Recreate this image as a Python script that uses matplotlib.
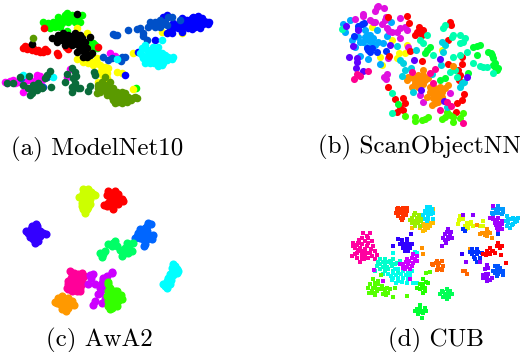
import matplotlib
matplotlib.use('Agg')
import matplotlib.pyplot as plt
import numpy as np

# point positions (t-SNE, arbitrary units)
# (a) ModelNet10
a_green = [(128,65),(145,70),(160,65),(175,60),(195,45),(205,50),(220,55),(245,45),(240,65),(225,65),(205,65),(185,70),(165,80),(150,85),(135,82),(200,92),(285,135),(275,145),(262,130),(408,265),(175,52),(190,60),(155,75),(170,70),(215,45),(200,40),(232,55),(180,80),(290,145),(280,130)]
a_red = [(70,145),(85,140),(100,145),(115,150),(130,155),(140,152),(170,158),(175,165),(205,147),(133,85),(295,140),(80,148),(95,150),(120,155),(75,138),(108,152),(135,148),(198,142)]
a_black = [(97,133),(230,42),(155,115),(175,105),(190,100),(205,105),(225,100),(240,105),(170,125),(185,120),(200,125),(215,120),(230,120),(245,115),(270,112),(255,125),(195,135),(215,135),(235,135),(240,150),(255,160),(270,165),(230,155),(260,145),(275,158),(185,110),(200,112),(215,108),(230,110),(245,125),(175,115),(225,128),(208,128),(245,140),(250,170),(262,170)]
a_yellow = [(230,85),(260,100),(232,178),(250,185),(265,190),(290,175),(280,195),(300,195),(310,210),(325,205),(300,215),(350,215),(365,220),(320,235),(295,245),(400,160),(485,97),(545,100),(398,268),(260,145),(305,225),(290,190),(315,200),(275,185),(245,178),(320,220)]
a_olive = [(98,115),(315,232),(305,245),(330,245),(295,265),(310,270),(325,265),(340,265),(350,275),(365,275),(320,285),(335,290),(350,295),(375,280),(385,290),(400,295),(345,310),(365,310),(380,305),(290,280),(295,255),(360,290),(405,290),(320,255),(310,258),(335,278),(375,295),(392,300),(355,305),(340,300),(322,275),(300,275),(370,288),(410,295)]
a_magenta = [(15,245),(30,242),(45,250),(65,240),(80,240),(110,235),(125,240),(120,228),(68,277),(210,207),(200,230),(330,160),(345,168),(55,245),(100,245),(22,250),(38,240),(72,245),(90,240),(110,225)]
a_dkgreen = [(20,250),(60,230),(88,228),(150,212),(140,225),(135,235),(115,250),(100,255),(85,265),(95,280),(110,270),(90,285),(125,265),(68,255),(152,262),(200,222),(215,205),(225,215),(195,245),(220,235),(225,250),(220,265),(235,265),(215,275),(240,265),(282,215),(285,225),(270,258),(265,272),(40,250),(105,262),(95,268),(120,258),(228,228),(215,260)]
a_pure_blue = [(520,70),(540,65),(560,60),(575,55),(590,50),(605,55),(620,65),(625,72),(600,75),(585,80),(565,85),(555,60),(510,90),(500,100),(545,95),(465,120),(490,50),(500,45),(375,225),(415,155),(605,65),(580,65),(595,65),(570,72),(555,75),(590,60),(612,62),(530,75),(520,85),(595,48),(580,50),(565,68),(550,82),(590,75),(610,72),(628,65),(575,88),(600,85),(545,55),(535,85),(515,100)]
a_blue = [(345,105),(385,90),(410,88),(420,85),(430,100),(450,65),(465,65),(480,60),(495,65),(445,80),(465,80),(480,80),(500,75),(540,60),(430,108),(440,120),(310,172),(325,180),(335,175),(365,170),(375,172),(362,182),(63,233),(140,232),(128,260),(505,50),(515,50),(475,70),(458,72),(490,72),(350,105),(338,103)]
a_cyan = [(425,145),(420,160),(430,175),(445,165),(460,140),(470,150),(485,160),(465,165),(455,180),(470,185),(485,195),(500,180),(515,178),(490,175),(350,178),(485,120),(160,232),(70,225),(435,135),(435,190),(450,150),(478,178),(460,155),(440,178),(475,140),(495,165),(505,172),(462,190),(480,185),(425,165),(440,150),(455,168),(470,172),(450,190),(475,198),(490,188),(520,172)]

# (b) ScanObjectNN
b_yellow = [(440,135),(418,158),(435,158),(360,172),(395,120),(335,80),(410,175),(545,150),(365,195)]
b_magenta = [(355,18),(372,25),(345,32),(308,42),(285,58),(420,55),(330,60),(345,65),(375,60),(365,72),(380,85),(395,95),(410,95),(420,85),(440,90),(435,80),(420,115),(385,175),(380,222),(378,238),(490,305),(445,140),(570,280),(480,285),(350,22),(308,48),(338,65),(378,52),(388,92),(372,232)]
b_sky = [(270,60),(250,72),(255,95),(275,120),(295,110),(315,90),(320,105),(350,90),(380,108),(310,125),(325,120),(340,115),(355,125),(370,130),(320,140),(300,168),(325,178),(360,192),(392,65),(285,140),(315,110),(330,105),(335,130),(300,125),(345,135)]
b_blue = [(305,72),(295,78),(282,108),(320,145),(335,145),(350,155),(330,155),(378,152),(295,88),(312,68),(325,150)]
b_red = [(440,47),(383,50),(448,70),(478,82),(470,95),(490,90),(465,105),(485,105),(570,65),(450,152),(565,120),(388,168),(486,184),(605,170),(565,193),(605,193),(595,210),(600,225),(598,240),(385,262),(613,283),(605,300),(590,308),(405,297),(430,295),(435,310),(420,320),(428,330),(410,335),(587,335),(475,95),(572,75)]
b_orange = [(445,230),(460,235),(475,225),(490,210),(505,235),(480,245),(455,260),(475,260),(495,240),(525,265),(540,260),(510,275),(535,280),(520,295),(515,315),(535,305),(545,290),(565,255),(555,265),(500,290),(578,197),(470,240),(490,225),(465,250),(485,235),(520,280),(530,295),(510,262),(525,310),(545,275),(440,240),(490,252)]
b_spring = [(640,140),(660,135),(685,155),(695,165),(650,165),(700,175),(705,190),(712,210),(698,195),(415,313),(540,240),(555,235),(510,140),(495,160),(625,220),(650,138),(692,158),(705,200),(715,205),(500,150)]
b_lime = [(465,350),(465,362),(485,360),(503,352),(545,358),(555,352),(578,367),(560,335),(580,350),(600,355),(608,338),(436,348),(495,358),(570,345)]
b_mint = [(555,75),(550,85),(580,105),(600,105),(615,115),(600,130),(575,110),(620,155),(640,188),(660,198),(680,200),(700,220),(480,120),(500,105),(520,165),(580,170),(600,165),(570,215),(585,210),(590,232),(395,278),(395,338),(245,88),(670,200),(490,130),(610,125)]
b_cyan = [(545,125),(555,135),(410,138),(468,150),(420,180),(430,190),(435,210),(425,228),(452,205),(458,275),(550,155),(542,195),(605,250),(612,245),(600,262),(560,320),(515,222)]
b_violet = [(258,78),(295,90),(278,137),(390,135),(268,172),(290,175),(292,185),(287,205),(310,212),(462,180),(540,178),(620,230),(482,270),(552,302)]
b_pink = [(290,222),(300,228),(282,238),(325,213),(455,215),(510,220),(525,208),(520,248),(540,330),(572,318),(608,370),(560,305)]

# (c) AwA2
c_yellow = [(250,40),(265,40),(245,60),(260,60),(280,55),(245,80),(262,80),(250,100),(262,100),(270,85),(250,50),(272,48),(238,62),(255,70),(270,68),(245,90),(265,92),(255,110),(285,58)]
c_red = [(325,45),(345,45),(330,65),(350,65),(365,70),(320,90),(340,90),(355,85),(335,75),(340,55),(322,58),(355,55),(370,75),(345,78),(325,82),(312,88),(338,98),(358,75)]
c_indigo = [(95,150),(110,150),(85,170),(105,170),(130,172),(100,190),(115,195),(120,180),(108,145),(92,160),(110,160),(78,165),(120,165),(90,182),(105,182),(138,175),(105,200)]
c_blue = [(445,140),(435,155),(420,160),(410,180),(430,175),(450,180),(455,190),(435,205),(440,165),(452,145),(425,168),(415,172),(405,185),(440,190),(458,178),(430,190),(420,185),(432,210),(440,150)]
c_spring = [(340,200),(325,205),(350,210),(300,230),(310,235),(315,225),(375,215),(390,205),(395,225),(370,235),(385,220),(400,200),(335,210),(345,195),(380,200),(375,225),(385,232),(365,240),(305,242),(360,222)]
c_cyan = [(515,275),(530,280),(510,295),(505,305),(490,325),(510,325),(500,335),(520,265),(525,270),(535,285),(518,288),(500,315),(512,312),(520,298),(495,330),(530,292)]
c_pink = [(215,295),(235,295),(245,290),(205,315),(225,315),(245,310),(205,340),(225,335),(240,335),(205,325),(210,285),(225,300),(212,305),(235,305),(252,300),(215,328),(230,325),(245,325),(215,345),(230,345),(200,335),(240,345),(222,290)]
c_orange = [(175,375),(195,370),(215,375),(190,395),(205,395),(215,385),(170,380),(185,360),(180,385),(200,380),(190,380),(205,365),(175,365),(222,388),(198,405),(185,398),(165,378)]
c_lime = [(325,325),(325,345),(345,345),(360,365),(335,370),(325,390),(345,385),(335,395),(330,335),(340,355),(350,355),(355,375),(335,380),(365,370),(320,360),(325,375),(345,375),(325,318),(352,345),(362,358),(350,390),(330,400)]
c_purple = [(270,298),(280,295),(265,325),(285,325),(310,305),(320,300),(305,320),(300,335),(295,355),(315,340),(335,287),(335,292),(285,375),(278,388),(305,380),(315,370),(272,305),(315,310),(308,312),(300,350),(310,330)]

# (d) CUB
d_redorange = [(415,95),(430,95),(410,105),(425,108),(440,105),(415,120),(430,120),(425,132),(438,118),(408,112),(420,100),(435,100),(418,112),(432,112),(422,125),(412,98),(428,125),(440,95)]
d_amber = [(490,145),(505,140),(518,140),(495,155),(510,150),(490,165),(480,155),(455,155),(520,100),(500,148),(485,150),(495,162),(512,142),(505,155)]
d_yellowgreen = [(465,110),(455,125),(470,125),(485,125),(460,135),(475,140),(465,150),(480,150),(450,132),(472,132),(462,118),(478,118),(455,140),(468,142),(482,135),(475,125)]
d_cyan = [(500,92),(510,92),(495,105),(510,105),(520,110),(490,118),(505,120),(518,128),(500,135),(495,128),(505,98),(515,100),(500,112),(512,115),(495,112),(505,128)]
d_yellow = [(600,120),(608,128),(598,132),(620,140),(630,145),(615,150),(640,150),(625,155),(660,150),(670,150),(670,135),(610,118),(595,145),(625,148),(618,158),(632,138)]
d_orange = [(665,170),(680,160),(690,172),(680,180),(695,185),(660,175),(672,172),(650,148),(487,217),(490,233),(630,218),(685,168),(675,178)]
d_azure = [(700,95),(715,90),(730,100),(695,110),(710,105),(725,115),(700,120),(708,98),(720,100),(715,112),(705,112),(730,108)]
d_turq = [(740,120),(755,130),(770,130),(745,140),(760,145),(735,135),(775,125),(750,155),(745,130),(765,138),(755,148),(742,150),(760,125),(772,135)]
d_purple = [(700,125),(715,125),(725,135),(705,140),(720,150),(710,155),(725,160),(700,90),(690,125),(698,130),(710,132),(718,140),(708,148),(715,162),(725,145)]
d_violet = [(563,160),(555,175),(570,175),(550,185),(565,190),(575,185),(558,200),(547,210),(560,168),(565,182),(555,192),(572,168)]
d_indigo = [(415,188),(425,200),(440,195),(455,205),(430,215),(440,215),(420,205),(445,225),(398,210),(452,175),(605,235),(432,205),(445,205),(425,192),(435,225),(450,215),(440,188)]
d_pink = [(330,170),(320,180),(305,185),(280,200),(295,200),(315,195),(335,195),(285,215),(300,215),(320,210),(340,210),(290,230),(305,235),(320,230),(290,245),(305,245),(325,245),(300,258),(335,240),(350,237),(275,240),(345,250),(315,220),(310,170),(325,185),(305,205),(290,208),(325,202),(298,192),(310,225),(295,222),(285,235),(315,238),(300,225),(332,220),(312,250),(280,210),(330,232),(345,225)]
d_mint = [(360,250),(375,250),(390,255),(360,265),(375,265),(395,270),(360,280),(385,280),(400,285),(415,290),(368,258),(382,258),(368,272),(382,272),(375,285),(405,265),(420,255),(355,258),(392,262),(352,270),(370,295),(400,250),(412,262),(345,285)]
d_aqua = [(400,290),(415,280),(430,285),(415,305),(430,305),(445,290),(400,305),(425,318),(445,310),(455,285),(385,295),(440,320),(408,298),(422,295),(438,298),(392,300),(415,315),(405,280),(450,298),(395,312),(408,322),(432,275),(460,320),(472,322),(400,230),(465,228),(472,230)]
d_magenta = [(470,240),(455,245),(440,250),(430,265),(445,265),(460,260),(470,255),(435,280),(450,280),(420,265),(460,235),(448,255),(438,258),(455,270),(465,248),(442,272),(428,275),(342,283),(370,315),(450,310)]
d_deeporange = [(530,255),(545,255),(520,268),(535,270),(548,270),(530,282),(545,282),(515,265),(615,285),(620,295),(608,285),(538,262),(528,262),(540,278)]
d_blue = [(635,220),(650,220),(665,230),(635,235),(650,235),(660,245),(645,250),(650,258),(642,228),(655,228),(642,242),(630,228),(615,165),(608,158),(715,175)]
d_red = [(690,215),(680,225),(700,225),(670,235),(690,235),(705,230),(715,200),(725,210),(710,210),(720,215),(722,238),(695,225),(685,232),(715,208),(678,238),(738,260)]
d_blue2 = [(705,270),(720,275),(730,285),(700,285),(715,295),(730,298),(710,300),(712,282),(722,288),(706,292),(715,270)]
d_violet2 = [(680,268),(675,280),(670,305),(685,295),(695,305),(680,315),(690,312),(682,305),(678,295),(685,275),(668,298),(618,258),(660,258),(608,118),(638,118)]
d_lime = [(340,310),(355,315),(330,325),(345,330),(365,330),(335,345),(350,345),(375,345),(390,340),(405,335),(345,358),(370,355),(355,325),(400,362),(338,335),(345,320),(360,340),(325,335),(352,338),(368,338),(380,335),(385,350),(340,350),(328,350),(378,358),(362,298),(498,290),(510,288),(442,360)]
d_green = [(490,310),(505,320),(480,325),(495,335),(470,335),(490,350),(495,345),(485,335),(490,325),(498,318),(480,340)]
d_green2 = [(560,340),(545,345),(570,345),(540,355),(555,355),(575,355),(560,370),(548,362),(550,348),(565,350),(558,362),(568,362)]
d_green3 = [(480,388),(495,395),(470,400),(485,405),(498,405),(475,415),(485,425),(480,398),(490,412),(465,405),(478,408)]

panel_labels = ['(a) ModelNet10', '(b) ScanObjectNN', '(c) AwA2', '(d) CUB']

# draw order matters, later clusters sit on top
series_a = [(a_green,'#00ff00'),(a_red,'#ff0000'),(a_yellow,'#ffff00'),(a_black,'#000000'),(a_magenta,'#ff00ff'),
            (a_pure_blue,'#0000ff'),(a_blue,'#0050c8'),(a_cyan,'#00ffff'),(a_dkgreen,'#0a6b3a'),(a_olive,'#5a9a00')]
series_b = [(b_yellow,'#ffff00'),(b_sky,'#00aaff'),(b_blue,'#0030ff'),(b_magenta,'#e010e0'),(b_red,'#ff0000'),
            (b_lime,'#40ff00'),(b_spring,'#00ff30'),(b_mint,'#00ffb0'),(b_orange,'#ff8c00'),(b_cyan,'#00d0e0'),
            (b_violet,'#6000ff'),(b_pink,'#ff0090')]
series_c = [(c_yellow,'#ccff00'),(c_red,'#ff0000'),(c_indigo,'#3300ff'),(c_blue,'#0066ff'),(c_spring,'#00ff66'),
            (c_cyan,'#00ffff'),(c_pink,'#ff0099'),(c_orange,'#ff9900'),(c_purple,'#cc00ff'),(c_lime,'#33ff00')]
series_d = [(d_redorange,'#ff3300'),(d_amber,'#ffbb00'),(d_yellowgreen,'#99ee00'),(d_cyan,'#00e0ff'),(d_yellow,'#ddff00'),
            (d_orange,'#ff9000'),(d_azure,'#0099ff'),(d_turq,'#00ccff'),(d_purple,'#a000ff'),(d_violet,'#8800ff'),
            (d_indigo,'#3000ff'),(d_pink,'#ff00a0'),(d_mint,'#00ffcc'),(d_aqua,'#00ffee'),(d_magenta,'#cc00ff'),
            (d_deeporange,'#ff6600'),(d_blue,'#0033ff'),(d_red,'#ff0000'),(d_blue2,'#0055ff'),(d_violet2,'#8800ff'),
            (d_lime,'#55ff00'),(d_green,'#22ff00'),(d_green2,'#00ff55'),(d_green3,'#00ff33')]

panels = [
    (series_a, 'o', 30, (292, 447)),
    (series_b, 'o', 26, (478, 441)),
    (series_c, 'o', 34, (298, 492)),
    (series_d, 's', 9, (528, 492)),
]

fig, axs = plt.subplots(2, 2, figsize=(5.2, 3.52), dpi=100)
fig.subplots_adjust(left=0, right=1, bottom=0, top=1, wspace=0, hspace=0)

for ax, (series, marker, size, label_pos), label in zip(axs.flat, panels, panel_labels):
    for points, color in series:
        pts = np.array(points)
        ax.scatter(pts[:, 0], pts[:, 1], s=size, c=color, marker=marker, linewidths=0)
    ax.set_xlim(0, 780)
    ax.set_ylim(528, 0)
    ax.axis('off')
    ax.text(label_pos[0], label_pos[1], label, family='cmr10', fontsize=18, ha='center', va='center')

plt.savefig('out.png', dpi=100)
plt.close()
